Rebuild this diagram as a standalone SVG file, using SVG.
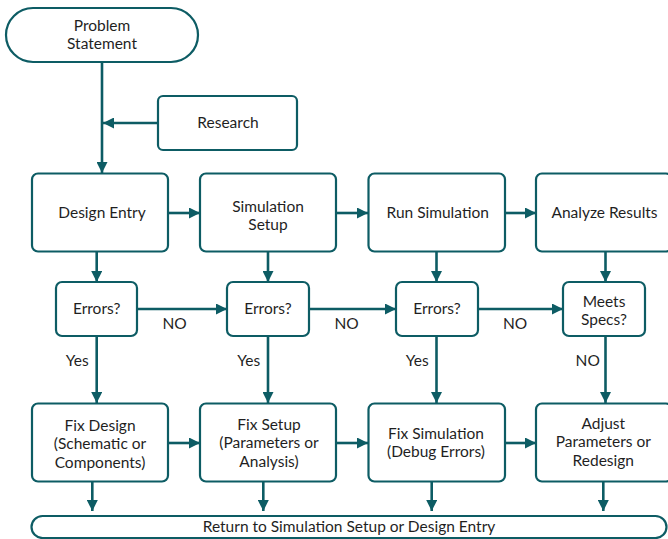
<svg xmlns="http://www.w3.org/2000/svg" width="668" height="539" viewBox="0 0 668 539">
<defs>
<style>
.n{fill:#fff;stroke:#0d5c64;stroke-width:2.2}
.t{font-family:Lato,"Open Sans",sans-serif;font-size:15.5px;fill:#1f1f1f;text-anchor:middle;dominant-baseline:central}
.c{stroke:#0d5c64;stroke-width:2.6;fill:none;marker-end:url(#ah)}
</style>
<marker id="ah" markerUnits="userSpaceOnUse" markerWidth="11" markerHeight="11" refX="10" refY="5" orient="auto" viewBox="0 0 10 10">
<path d="M0,0 L10,5 L0,10 Z" fill="#0d5c64"/>
</marker>
</defs>
<rect width="668" height="539" fill="#fff"/>
<g id="connectors">
<path class="c" d="M102,62 V173"/>
<path class="c" d="M158,123 H103"/>
<path class="c" d="M168,213 H200"/>
<path class="c" d="M336,213 H368"/>
<path class="c" d="M505,213 H536"/>
<path class="c" d="M96.7,252 V282"/>
<path class="c" d="M268,252 V282"/>
<path class="c" d="M436.5,252 V282"/>
<path class="c" d="M605.5,252 V282"/>
<path class="c" d="M137,309 H227"/>
<path class="c" d="M309,309 H396"/>
<path class="c" d="M478,309 H563"/>
<path class="c" d="M96.7,336 V403"/>
<path class="c" d="M268,336 V403"/>
<path class="c" d="M436.5,336 V403"/>
<path class="c" d="M605.5,336 V403"/>
<path class="c" d="M168,443 H200"/>
<path class="c" d="M336,443 H368"/>
<path class="c" d="M505,443 H536"/>
<path class="c" d="M92.3,482 V511"/>
<path class="c" d="M263.3,482 V511"/>
<path class="c" d="M431.7,482 V511"/>
<path class="c" d="M603.3,482 V511"/>
<text class="t" x="174.5" y="322.5">NO</text>
<text class="t" x="346.5" y="322.5">NO</text>
<text class="t" x="515" y="322.5">NO</text>
<text class="t" x="77.3" y="360">Yes</text>
<text class="t" x="248.7" y="360">Yes</text>
<text class="t" x="417.3" y="360">Yes</text>
<text class="t" x="587.7" y="360">NO</text>
</g>
<g id="problem">
<rect class="n" x="6" y="8" width="192" height="54" rx="27"/>
<text class="t" x="102" y="24.5">Problem</text>
<text class="t" x="102" y="42.5">Statement</text>
</g>
<g id="research">
<rect class="n" x="158" y="96" width="139" height="54" rx="5"/>
<text class="t" x="228" y="122">Research</text>
</g>
<g id="design-entry">
<rect class="n" x="32" y="173.5" width="136" height="78" rx="6"/>
<text class="t" x="102" y="212">Design Entry</text>
</g>
<g id="sim-setup">
<rect class="n" x="200" y="173.5" width="136" height="78" rx="6"/>
<text class="t" x="268" y="205.7">Simulation</text>
<text class="t" x="268" y="224">Setup</text>
</g>
<g id="run-sim">
<rect class="n" x="368.5" y="173.5" width="136.5" height="78" rx="6"/>
<text class="t" x="437.7" y="212">Run Simulation</text>
</g>
<g id="analyze">
<rect class="n" x="536" y="173.5" width="136" height="78" rx="6"/>
<text class="t" x="604.5" y="212">Analyze Results</text>
</g>
<g id="errors1">
<rect class="n" x="56" y="282" width="81" height="54" rx="6"/>
<text class="t" x="96.7" y="308">Errors?</text>
</g>
<g id="errors2">
<rect class="n" x="227" y="282" width="82" height="54" rx="6"/>
<text class="t" x="268" y="308">Errors?</text>
</g>
<g id="errors3">
<rect class="n" x="396" y="282" width="82" height="54" rx="6"/>
<text class="t" x="437" y="308">Errors?</text>
</g>
<g id="meets-specs">
<rect class="n" x="563" y="282" width="82" height="54" rx="6"/>
<text class="t" x="604" y="300.7">Meets</text>
<text class="t" x="604" y="319">Specs?</text>
</g>
<g id="fix-design">
<rect class="n" x="32" y="403.5" width="136" height="78" rx="6"/>
<text class="t" x="100" y="425">Fix Design</text>
<text class="t" x="100" y="443.3">(Schematic or</text>
<text class="t" x="100" y="461.7">Components)</text>
</g>
<g id="fix-setup">
<rect class="n" x="200" y="403.5" width="136" height="78" rx="6"/>
<text class="t" x="269" y="424">Fix Setup</text>
<text class="t" x="269" y="442.3">(Parameters or</text>
<text class="t" x="269" y="460.7">Analysis)</text>
</g>
<g id="fix-sim">
<rect class="n" x="368.5" y="403.5" width="136.5" height="78" rx="6"/>
<text class="t" x="436" y="433">Fix Simulation</text>
<text class="t" x="436" y="451.3">(Debug Errors)</text>
</g>
<g id="adjust">
<rect class="n" x="536" y="403.5" width="136" height="78" rx="6"/>
<text class="t" x="603.3" y="423">Adjust</text>
<text class="t" x="603.3" y="441.3">Parameters or</text>
<text class="t" x="603.3" y="459.7">Redesign</text>
</g>
<g id="return">
<rect class="n" x="31.5" y="516" width="635" height="22" rx="11"/>
<text class="t" x="349" y="526">Return to Simulation Setup or Design Entry</text>
</g>
</svg>
